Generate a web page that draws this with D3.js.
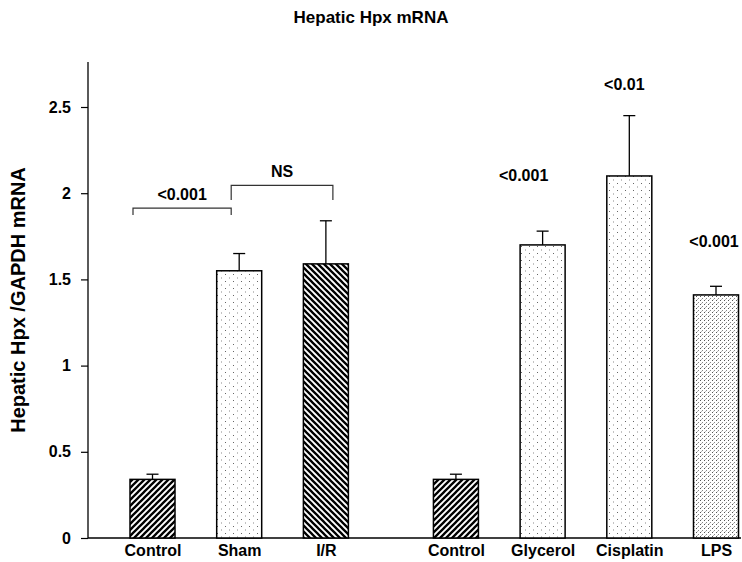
<!DOCTYPE html>
<html><head><meta charset="utf-8">
<script src="https://cdn.jsdelivr.net/npm/d3@7"></script>
<style>body{margin:0;background:#fff}svg{display:block}text{font-family:"Liberation Sans",Arial,sans-serif;font-weight:bold}</style>
</head><body><svg id="c" width="742" height="562"></svg>
<script>
const categories = ["Control", "Sham", "I/R", "Control", "Glycerol", "Cisplatin", "LPS"];
const groups = [0, 0, 0, 1, 1, 1, 1];
const values = [0.34, 1.55, 1.59, 0.34, 1.70, 2.10, 1.41];
const errors = [0.03, 0.10, 0.25, 0.03, 0.08, 0.35, 0.05];
const patterns = ["hatchR", "dots", "hatchL", "hatchR", "dots", "dots", "dense"];
const yTicks = [0, 0.5, 1, 1.5, 2, 2.5];
const annotTexts = ["<0.001", "<0.01", "<0.001"];
const annotBars = [4, 5, 6];
const annotLevels = [2.07, 2.60, 1.69];
const bracketTexts = ["<0.001", "NS"];
const bracketFrom = [0, 1];
const bracketTo = [1, 2];
const bracketLevels = [1.914, 2.045];
const bracketDrops = [0.04, 0.085];

const svg = d3.select("#c");
const slot = d3.scaleLinear().domain([0, 6.5]).range([152.5, 716]);
const pos = i => slot(i + groups[i] * 0.5);
const bw = 45;
const y = d3.scaleLinear().domain([0, 2.5]).range([538, 107]);
const xo = d3.scaleOrdinal().domain(categories.map((c, i) => i)).range(categories.map((c, i) => pos(i)));

const defs = svg.append("defs");
function hatch(id, dir) {
  const p = defs.append("pattern").attr("id", id).attr("patternUnits", "userSpaceOnUse")
    .attr("width", 6).attr("height", 6);
  p.append("rect").attr("width", 6).attr("height", 6).attr("fill", "#fff");
  const d = dir > 0 ? "M-1,7 L7,-1 M-4,4 L4,-4 M2,10 L10,2" : "M-1,-1 L7,7 M-4,2 L4,10 M2,-4 L10,4";
  p.append("path").attr("d", d).attr("stroke", "#000").attr("stroke-width", 2.3);
}
hatch("hatchR", 1); hatch("hatchL", -1);
const pd = defs.append("pattern").attr("id", "dots").attr("patternUnits", "userSpaceOnUse")
  .attr("width", 8).attr("height", 7);
pd.append("rect").attr("width", 8).attr("height", 7).attr("fill", "#fff");
pd.append("rect").attr("x", 1).attr("y", 1).attr("width", 1).attr("height", 1).attr("fill", "#666");
pd.append("rect").attr("x", 5).attr("y", 4.5).attr("width", 1).attr("height", 1).attr("fill", "#888");
const pn = defs.append("pattern").attr("id", "dense").attr("patternUnits", "userSpaceOnUse")
  .attr("width", 4).attr("height", 4);
pn.append("rect").attr("width", 4).attr("height", 4).attr("fill", "#fff");
pn.append("rect").attr("x", 0).attr("y", 0).attr("width", 1).attr("height", 1).attr("fill", "#555");
pn.append("rect").attr("x", 2).attr("y", 2).attr("width", 1).attr("height", 1).attr("fill", "#888");
pn.append("rect").attr("x", 1).attr("y", 3).attr("width", 1).attr("height", 1).attr("fill", "#bbb");

// title
svg.append("text").attr("x", 371).attr("y", 23).attr("text-anchor", "middle")
  .attr("font-size", 17).text("Hepatic Hpx mRNA");
// y label
svg.append("text").attr("transform", "translate(25,300) rotate(-90)").attr("text-anchor", "middle")
  .attr("font-size", 20).text("Hepatic Hpx /GAPDH mRNA");

const fontCss = '"Liberation Sans",Arial,sans-serif';
// y axis
const ya = svg.append("g").attr("transform", "translate(88,0)")
  .call(d3.axisLeft(y).tickValues(yTicks).tickSize(7).tickPadding(10).tickFormat(d => d3.format("")(d)));
ya.select(".domain").attr("d", "M0,62V538").attr("stroke", "#000").attr("stroke-width", 1.3);
ya.selectAll(".tick line").attr("stroke", "#000").attr("stroke-width", 1.2);
ya.selectAll(".tick text").attr("font-size", 16).attr("fill", "#000")
  .style("font-family", fontCss).style("font-weight", "bold");

// x axis
const xa = svg.append("g").attr("transform", "translate(0,538)")
  .call(d3.axisBottom(xo).tickSize(0).tickPadding(7).tickFormat(i => categories[i]));
xa.select(".domain").attr("d", "M88,0H741").attr("stroke", "#000").attr("stroke-width", 1.3);
xa.selectAll(".tick text").attr("font-size", 16).attr("fill", "#000")
  .style("font-family", fontCss).style("font-weight", "bold");

const data = categories.map((c, i) => ({i, v: values[i], e: errors[i], p: patterns[i]}));

// error bars
const eb = svg.append("g").attr("stroke", "#000").attr("stroke-width", 1.3);
data.forEach(d => {
  const cx = pos(d.i);
  eb.append("line").attr("x1", cx).attr("x2", cx).attr("y1", y(d.v)).attr("y2", y(d.v + d.e));
  eb.append("line").attr("x1", cx - 6).attr("x2", cx + 6).attr("y1", y(d.v + d.e)).attr("y2", y(d.v + d.e));
});

// bars
svg.append("g").selectAll("rect").data(data).join("rect")
  .attr("x", d => pos(d.i) - bw / 2).attr("width", bw)
  .attr("y", d => y(d.v)).attr("height", d => y(0) - y(d.v))
  .attr("fill", d => `url(#${d.p})`).attr("stroke", "#000").attr("stroke-width", 1.5);

// annotations above bars
const annotDx = [-19, -5, -2];
annotTexts.forEach((t, k) => {
  svg.append("text").attr("x", pos(annotBars[k]) + annotDx[k]).attr("y", y(annotLevels[k]))
    .attr("text-anchor", "middle").attr("font-size", 16).text(t);
});
// brackets
const bracketL = [i => pos(i) - bw / 2 + 3, i => pos(i) - 8];
const bracketR = [i => pos(i) - 8, i => pos(i) + 7];
bracketTexts.forEach((t, k) => {
  const xl = bracketL[k](bracketFrom[k]), xr = bracketR[k](bracketTo[k]);
  const yb = y(bracketLevels[k]), yd = y(bracketLevels[k] - bracketDrops[k]);
  svg.append("path").attr("d", `M${xl},${yd}V${yb}H${xr}V${yd}`)
    .attr("fill", "none").attr("stroke", "#333").attr("stroke-width", 1.2);
  svg.append("text").attr("x", (xl + xr) / 2).attr("y", yb - 8).attr("text-anchor", "middle")
    .attr("font-size", 16).text(t);
});
</script></body></html>
